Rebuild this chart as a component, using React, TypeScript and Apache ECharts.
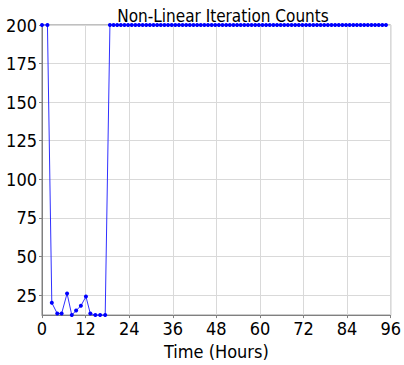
import React, { useEffect, useRef } from "react";
import * as echarts from "echarts";

const titleText = "Non-Linear Iteration Counts";
const xAxisName = "Time (Hours)";
const xTicks = [0, 12, 24, 36, 48, 60, 72, 84, 96];
const yTicks = [25, 50, 75, 100, 125, 150, 175, 200];

const earlyTimes = [0, 1.5, 2.7, 4.2, 5.4, 6.9, 8.2, 9.4, 10.7, 12.1, 13.3, 14.7, 16.0, 17.4];
const earlyCounts = [200, 200, 20, 13, 13, 26, 12, 15, 18, 24, 13, 12, 12, 12];

const lateTimes = [
  18.7, 19.7, 20.7, 21.7, 22.7, 23.7, 24.7, 25.7, 26.7, 27.7, 28.7, 29.7, 30.7, 31.7,
  32.7, 33.7, 34.7, 35.7, 36.7, 37.7, 38.7, 39.7, 40.7, 41.7, 42.7, 43.7, 44.7, 45.7,
  46.7, 47.7, 48.7, 49.7, 50.7, 51.7, 52.7, 53.7, 54.7, 55.7, 56.7, 57.7, 58.7, 59.7,
  60.7, 61.7, 62.7, 63.7, 64.7, 65.7, 66.7, 67.7, 68.7, 69.7, 70.7, 71.7, 72.7, 73.7,
  74.7, 75.7, 76.7, 77.7, 78.7, 79.7, 80.7, 81.7, 82.7, 83.7, 84.7, 85.7, 86.7, 87.7,
  88.7, 89.7, 90.7, 91.7, 92.7, 93.7, 94.7,
];
const lateCounts = [
  200, 200, 200, 200, 200, 200, 200, 200, 200, 200, 200, 200, 200, 200,
  200, 200, 200, 200, 200, 200, 200, 200, 200, 200, 200, 200, 200, 200,
  200, 200, 200, 200, 200, 200, 200, 200, 200, 200, 200, 200, 200, 200,
  200, 200, 200, 200, 200, 200, 200, 200, 200, 200, 200, 200, 200, 200,
  200, 200, 200, 200, 200, 200, 200, 200, 200, 200, 200, 200, 200, 200,
  200, 200, 200, 200, 200, 200, 200,
];

const FONT = "'DejaVu Sans Condensed', 'Liberation Sans Narrow', 'DejaVu Sans', sans-serif";

export default function App() {
  const ref = useRef<HTMLDivElement>(null);
  useEffect(() => {
    if (!ref.current) return;
    const chart = echarts.init(ref.current, undefined, { renderer: "svg" });
    const times = earlyTimes.concat(lateTimes);
    const counts = earlyCounts.concat(lateCounts);
    const data = times.map((t, i) => [t, counts[i]]);
    chart.setOption({
      animation: false,
      title: {
        text: titleText,
        left: 218,
        textAlign: "center",
        top: 2,
        textStyle: { fontFamily: FONT, fontSize: 17, fontWeight: "normal", color: "#000" },
      },
      grid: {
        left: 42,
        right: 10,
        top: 25,
        bottom: 48,
        show: true,
        borderColor: "#808080",
        borderWidth: 1,
        backgroundColor: "transparent",
      },
      xAxis: {
        type: "value",
        min: 0,
        max: 96,
        interval: 12,
        name: xAxisName,
        nameLocation: "middle",
        nameGap: 24,
        nameTextStyle: { fontFamily: FONT, fontSize: 18, color: "#000" },
        axisLine: { show: true, lineStyle: { color: "#808080" } },
        axisTick: { show: true, length: 3, lineStyle: { color: "#808080" }, customValues: xTicks },
        axisLabel: { fontFamily: FONT, fontSize: 18, color: "#000", margin: 4, customValues: xTicks },
        splitLine: { show: true, lineStyle: { color: "#d9d9d9", width: 1 } },
      },
      yAxis: {
        type: "value",
        min: 12,
        max: 200,
        axisLine: { show: true, lineStyle: { color: "#808080" } },
        axisTick: { show: true, length: 3, lineStyle: { color: "#808080" }, customValues: yTicks },
        axisLabel: { fontFamily: FONT, fontSize: 18, color: "#000", margin: 5, customValues: yTicks },
        splitLine: { show: true, lineStyle: { color: "#d9d9d9", width: 1 } },
      },
      series: [
        {
          type: "line",
          data,
          symbol: "circle",
          symbolSize: 4,
          itemStyle: { color: "#0000ff" },
          lineStyle: { color: "#3030ff", width: 1 },
          clip: false,
        },
      ],
    });
    return () => chart.dispose();
  }, []);
  return (
    <div style={{ position: "absolute", left: 0, top: 0 }}>
      <div ref={ref} style={{ width: 404, height: 365 }} />
    </div>
  );
}
